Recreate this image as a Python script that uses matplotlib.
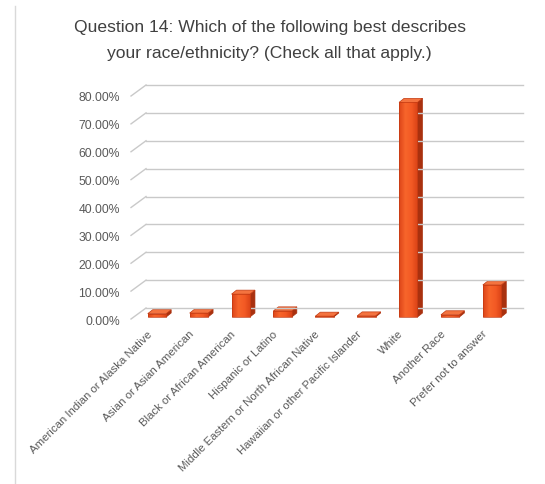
import matplotlib
matplotlib.use("Agg")
import numpy as np
import matplotlib.pyplot as plt
import matplotlib.transforms as mtransforms
from matplotlib.patches import Polygon, Rectangle
from matplotlib.lines import Line2D
from matplotlib.colors import LinearSegmentedColormap

plt.rcParams["font.family"] = ["Liberation Sans", "DejaVu Sans"]

# survey responses (% of respondents)
categories = [
    "American Indian or Alaska Native",
    "Asian or Asian American",
    "Black or African American",
    "Hispanic or Latino",
    "Middle Eastern or North African Native",
    "Hawaiian or other Pacific Islander",
    "White",
    "Another Race",
    "Prefer not to answer",
]
percent = [1.2, 1.4, 8.2, 2.2, 0.3, 0.4, 77.0, 0.8, 11.5]
y_ticks = [0, 10, 20, 30, 40, 50, 60, 70, 80]
title_lines = ["Question 14: Which of the following best describes",
               "your race/ethnicity? (Check all that apply.)"]

GRID = "#c9c9c9"
TEXT = "#595959"
SIDE = "#a9310f"
TOP = "#f4733f"
EDGE = "#c23a12"
front_cmap = LinearSegmentedColormap.from_list(
    "front", ["#dc4418", "#f7652b", "#f35a24", "#d94217"])

fig = plt.figure(figsize=(5.45, 4.85), dpi=100)
ax = fig.add_axes([0.2404, 0.3402, 0.6917, 0.4598])
n = len(categories)
ax.set_xlim(-0.5, n - 0.5)
ax.set_ylim(0, 80)
for s in ax.spines.values():
    s.set_visible(False)

# pixel -> data scale so depth offsets can be given in pixels
p0 = ax.transData.transform((0, 0))
p1 = ax.transData.transform((1, 1))
sx, sy = p1[0] - p0[0], p1[1] - p0[1]

def px(dx, dy):
    return dx / sx, dy / sy

# back wall gridlines with slanted floor/wall edge on the left
wx, wy = px(15, 11)
for t in y_ticks:
    ax.add_line(Line2D([-0.5, -0.5 + wx], [t, t + wy], color=GRID, lw=1.0,
                       clip_on=False))
    ax.add_line(Line2D([-0.5 + wx, n - 0.5 + wx], [t + wy, t + wy],
                       color=GRID, lw=1.0, clip_on=False))

# bars drawn as front / side / top faces
bw = 0.22
ox, oy = px(5, 2)
dx, dy = px(5, 4)
grad = np.linspace(0, 1, 64).reshape(1, -1)
for i, v in enumerate(percent):
    x0, x1 = i - bw + ox, i + bw + ox
    y0, y1 = oy, v + oy
    ax.add_patch(Polygon([(x1, y0), (x1 + dx, y0 + dy), (x1 + dx, y1 + dy),
                          (x1, y1)], closed=True, fc=SIDE, ec=SIDE, lw=0.5,
                         clip_on=False))
    ax.add_patch(Polygon([(x0, y1), (x1, y1), (x1 + dx, y1 + dy),
                          (x0 + dx, y1 + dy)], closed=True, fc=TOP, ec=EDGE,
                         lw=0.5, clip_on=False))
    face = Rectangle((x0, y0), x1 - x0, y1 - y0, fc="none", ec=EDGE, lw=0.5,
                     clip_on=False, zorder=3)
    ax.add_patch(face)
    img = ax.imshow(grad, cmap=front_cmap, aspect="auto",
                    extent=(x0, x1, y0, y1), interpolation="bilinear",
                    zorder=2)
    img.set_clip_path(face)

ax.set_xlim(-0.5, n - 0.5)
ax.set_ylim(0, 80)
ax.set_yticks(y_ticks)
ax.set_yticklabels([f"{t:.2f}%" for t in y_ticks], fontsize=8.7, color=TEXT)
ax.set_xticks(range(n))
ax.set_xticklabels(categories, rotation=45, ha="right",
                   rotation_mode="anchor", fontsize=8.2, color=TEXT)
ax.tick_params(axis="y", length=0, pad=8)
ax.tick_params(axis="x", length=0, pad=8)

# nudge the slanted category labels a little to the left
shift = mtransforms.ScaledTranslation(-5 / 100, 2 / 100, fig.dpi_scale_trans)
for lbl in ax.get_xticklabels():
    lbl.set_transform(lbl.get_transform() + shift)

fig.text(0.495, 1 - 32 / 485, title_lines[0], ha="center", va="baseline",
         fontsize=12.6, color="#404040")
fig.text(0.495, 1 - 58 / 485, title_lines[1], ha="center", va="baseline",
         fontsize=12.6, color="#404040")

# left border of the chart area
fig.add_artist(Line2D([0.028, 0.028], [0, 0.985], color="#d9d9d9", lw=1.0))

fig.savefig("out.png", dpi=100)
